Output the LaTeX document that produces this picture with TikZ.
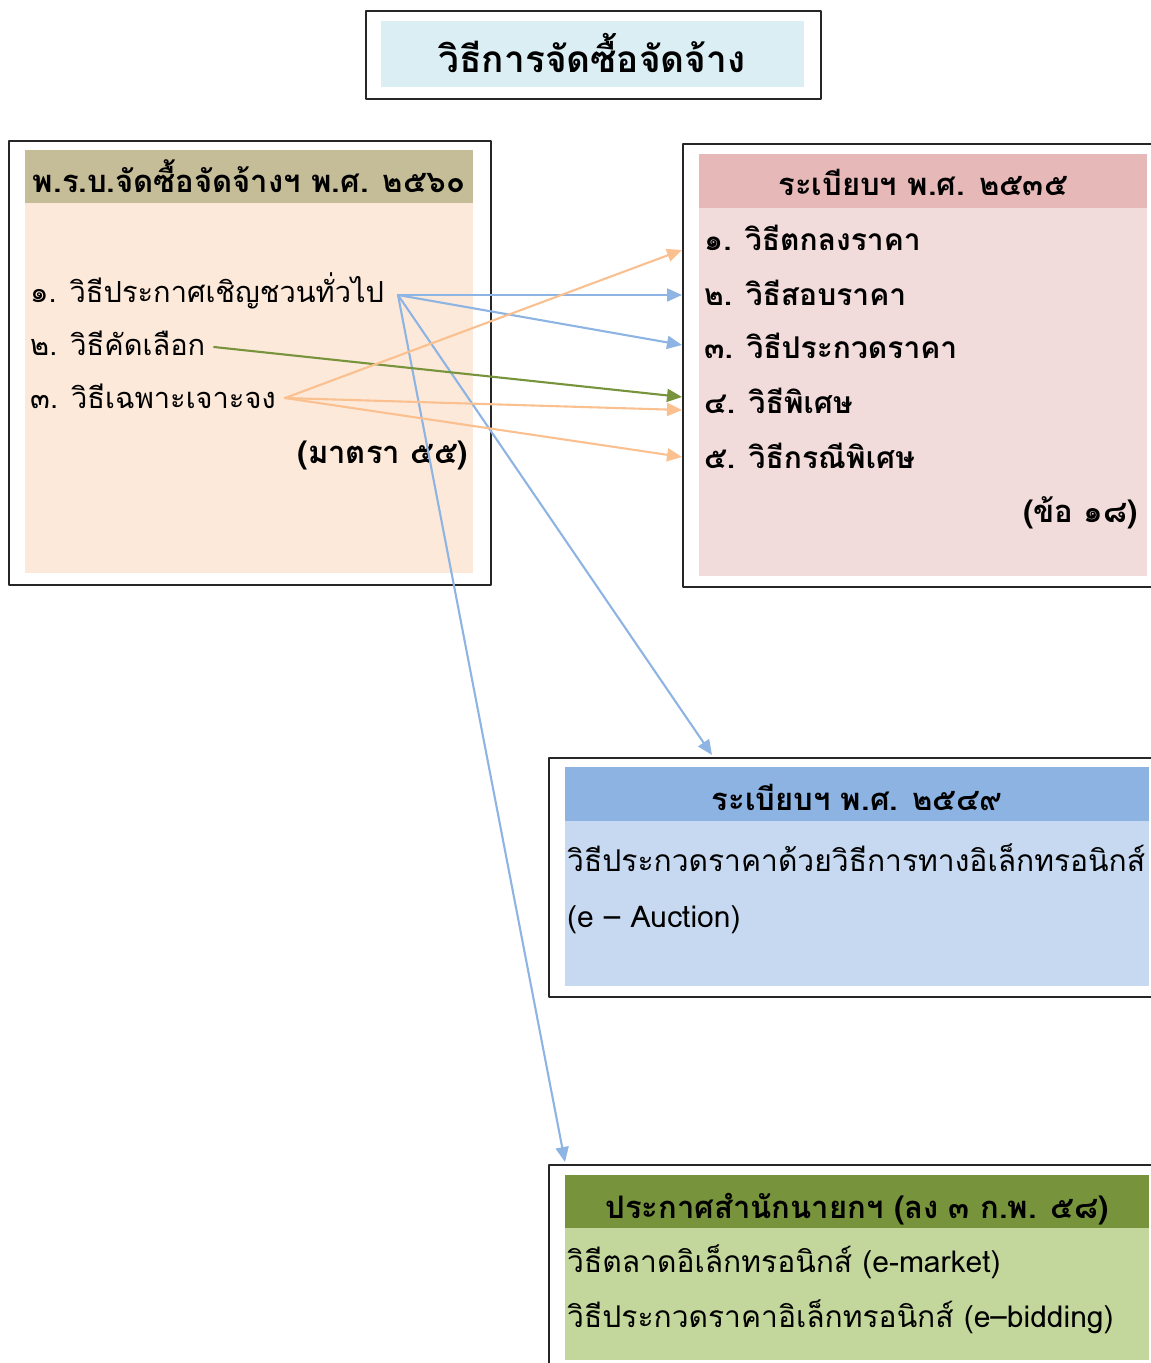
\documentclass[tikz,border=0pt]{standalone}
\usepackage{fontspec}
\setmainfont[Script=Thai]{Loma}
\usetikzlibrary{arrows.meta,positioning,calc}
\definecolor{titlefill}{HTML}{DAEEF3}
\definecolor{lawhead}{HTML}{C4BD97}
\definecolor{lawbody}{HTML}{FDE9D9}
\definecolor{reghead}{HTML}{E6B8B7}
\definecolor{regbody}{HTML}{F2DCDB}
\definecolor{auchead}{HTML}{8DB3E2}
\definecolor{aucbody}{HTML}{C6D9F1}
\definecolor{pmhead}{HTML}{77933C}
\definecolor{pmbody}{HTML}{C3D69B}
\definecolor{bluelink}{HTML}{8DB4E2}
\definecolor{orangelink}{HTML}{FAC090}

\begin{document}
\begin{tikzpicture}[x=1pt,y=-1pt, line cap=round, line join=round,
  frame/.style={draw=black!85, line width=1.8pt, anchor=north west, inner sep=0pt},
  headtext/.style={anchor=base, inner sep=0pt, font=\fontsize{31}{34}\selectfont\bfseries},
  itemtext/.style={anchor=base west, inner sep=0pt, font=\fontsize{29}{32}\selectfont},
  bitemtext/.style={itemtext, font=\fontsize{30}{33}\selectfont\bfseries},
  bodytext/.style={itemtext, font=\fontsize{30}{33}\selectfont},
  link/.style={line width=2.1pt, -{Triangle[length=15pt,width=13pt]}}]
\useasboundingbox (0,0) rectangle (1151,1363);

% title
\node[frame, minimum width=455pt, minimum height=88pt] (titlebox) at (365,10) {};
\fill[titlefill] (381,21) rectangle (804,87);
\node[anchor=base, inner sep=0pt, font=\fontsize{37}{40}\selectfont\bfseries] (title) at (592,72) {วิธีการจัดซื้อจัดจ้าง};

% act 2560
\node[frame, minimum width=482pt, minimum height=444pt] (actbox) at (8,140) {};
\fill[lawbody] (25,150) rectangle (473,573);
\fill[lawhead] (25,150) rectangle (473,203);
\node[headtext] (acthead) at (249,192) {พ.ร.บ.จัดซื้อจัดจ้างฯ พ.ศ. ๒๕๖๐};
\node[itemtext] (a1) at (30,302) {๑. วิธีประกาศเชิญชวนทั่วไป};
\node[itemtext] (a2) at (30,355) {๒. วิธีคัดเลือก};
\node[itemtext] (a3) at (30,408) {๓. วิธีเฉพาะเจาะจง};
\node[headtext, anchor=base east] (actref) at (468,463) {(มาตรา ๕๕)};

% regulation 2535
\node[frame, minimum width=500pt, minimum height=443pt] (regbox) at (682,143) {};
\fill[regbody] (699,154) rectangle (1147,576);
\fill[reghead] (699,154) rectangle (1147,208);
\node[headtext] (reghead) at (923,195) {ระเบียบฯ พ.ศ. ๒๕๓๕};
\node[bitemtext] (r1) at (704,250) {๑. วิธีตกลงราคา};
\node[bitemtext] (r2) at (704,305) {๒. วิธีสอบราคา};
\node[bitemtext] (r3) at (704,358) {๓. วิธีประกวดราคา};
\node[bitemtext] (r4) at (704,413) {๔. วิธีพิเศษ};
\node[bitemtext] (r5) at (704,468) {๕. วิธีกรณีพิเศษ};
\node[headtext, anchor=base east] (regref) at (1138,522) {(ข้อ ๑๘)};

% regulation 2549
\node[frame, minimum width=640pt, minimum height=239pt] (aucbox) at (548,757) {};
\fill[aucbody] (565,767) rectangle (1149,986);
\fill[auchead] (565,767) rectangle (1149,821);
\node[headtext] (auchead) at (857,810) {ระเบียบฯ พ.ศ. ๒๕๔๙};
\node[bodytext] (e1) at (567,871) {วิธีประกวดราคาด้วยวิธีการทางอิเล็กทรอนิกส์};
\node[bodytext] (e2) at (567,927) {(e – Auction)};

% PM announcement
\node[frame, minimum width=640pt, minimum height=240pt] (pmbox) at (548,1164) {};
\fill[pmbody] (565,1175) rectangle (1149,1360);
\fill[pmhead] (565,1175) rectangle (1149,1228);
\node[headtext] (pmhead) at (857,1218) {ประกาศสำนักนายกฯ (ลง ๓ ก.พ. ๕๘)};
\node[bodytext] (m1) at (567,1272) {วิธีตลาดอิเล็กทรอนิกส์ (e-market)};
\node[bodytext] (m2) at (567,1327) {วิธีประกวดราคาอิเล็กทรอนิกส์ (e–bidding)};

% links
\coordinate (s1) at (398,295);
\coordinate (s2) at (214,347);
\coordinate (s3) at (285,398);
\draw[link, bluelink] (s1) -- (regbox.west |- 0,295);
\draw[link, bluelink] (s1) -- (regbox.west |- 0,345);
\draw[link, bluelink] (s1) -- ($(aucbox.north west)+(164,-2)$);
\draw[link, bluelink] (s1) -- ($(pmbox.north west)+(17,-2)$);
\draw[link, pmhead] (s2) -- (regbox.west |- 0,397);
\draw[link, orangelink] (s3) -- (regbox.west |- 0,250);
\draw[link, orangelink] (s3) -- (regbox.west |- 0,410);
\draw[link, orangelink] (s3) -- (regbox.west |- 0,457);
\end{tikzpicture}
\end{document}
